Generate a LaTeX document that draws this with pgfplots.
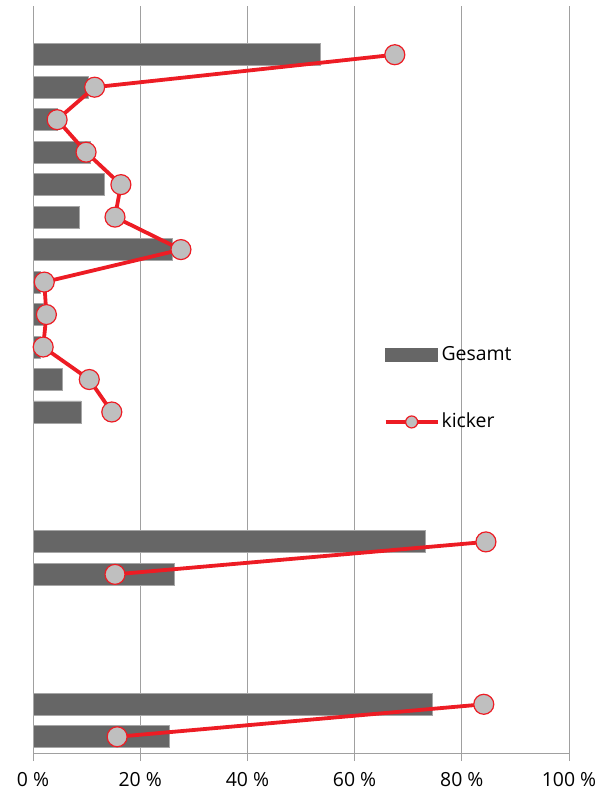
\documentclass[border=0pt]{standalone}
\usepackage{pgfplots}
\pgfplotsset{compat=1.18}
\usepackage{pgfplotstable}
\usepackage{fontspec}
\setmainfont{Open Sans}
\definecolor{bargray}{HTML}{666666}
\definecolor{baredge}{HTML}{A6A6A6}
\definecolor{gridgray}{HTML}{A0A0A0}
\definecolor{kred}{HTML}{ED1C24}
\definecolor{mgray}{HTML}{BFBFBF}
\pgfplotstableread{
row gesamt
0 53.7
1 10.3
2 4.5
3 10.8
4 13.4
5 8.6
6 26.1
7 1.4
8 1.9
9 1.3
10 5.5
11 9.0
15 73.3
16 26.3
20 74.6
21 25.4
}\gesamt
\pgfplotstableread{
row kicker
0 67.5
1 11.5
2 4.5
3 9.9
4 16.4
5 15.3
6 27.6
7 2.1
8 2.5
9 1.9
10 10.5
11 14.7
12 nan
15 84.5
16 15.3
17 nan
20 84.1
21 15.7
}\kicker
\begin{document}
\fontsize{19.5}{23}\selectfont
\begin{tikzpicture}
\begin{axis}[
  scale only axis,
  width=536bp, height=747bp,
  xmin=0, xmax=100,
  ymin=-1.5, ymax=21.5,
  y dir=reverse,
  axis lines*=left,
  axis line style={draw=gridgray, line width=1bp},
  xtick={0,20,40,60,80,100},
  xticklabels={0 \%,20 \%,40 \%,60 \%,80 \%,100 \%},
  tick align=outside,
  major tick length=8bp,
  xtick style={draw=gridgray, line width=1bp},
  ytick=\empty,
  xmajorgrids,
  major grid style={draw=gridgray, line width=1bp},
  xticklabel style={font=\fontsize{19.5}{23}\selectfont, yshift=-5bp},
  unbounded coords=jump,
  legend style={at={(axis description cs:0.654,0.488)}, anchor=west, draw=none, fill=none,
    font=\fontsize{19.5}{23}\selectfont, row sep=46bp, inner sep=0pt,
    nodes={inner sep=2bp}},
  legend cell align=left,
]
\addplot[xbar, bar width=22bp, bar shift=0pt, fill=bargray, draw=baredge, line width=0.8bp,
  legend image code/.code={\fill[bargray] (0bp,-6.5bp) rectangle (52bp,6.5bp);}]
  table[x=gesamt, y=row] {\gesamt};
\addlegendentry{Gesamt}
\addplot[draw=kred, line width=3.8bp, mark=*, mark size=10bp,
  mark options={fill=mgray, draw=kred, line width=1.2bp},
  legend image code/.code={\draw[kred, line width=3.8bp] (0bp,0bp) -- (52bp,0bp);
    \draw[fill=mgray, draw=kred, line width=1.2bp] (26bp,0bp) circle (6bp);}]
  table[x=kicker, y=row] {\kicker};
\addlegendentry{kicker}
\end{axis}
\path (current axis.south west) ++(-33bp,-45bp) coordinate (bbA);
\path (current axis.north east) ++(30bp,6bp) coordinate (bbB);
\pgfresetboundingbox
\path[use as bounding box] (bbA) rectangle (bbB);
\end{tikzpicture}
\end{document}
